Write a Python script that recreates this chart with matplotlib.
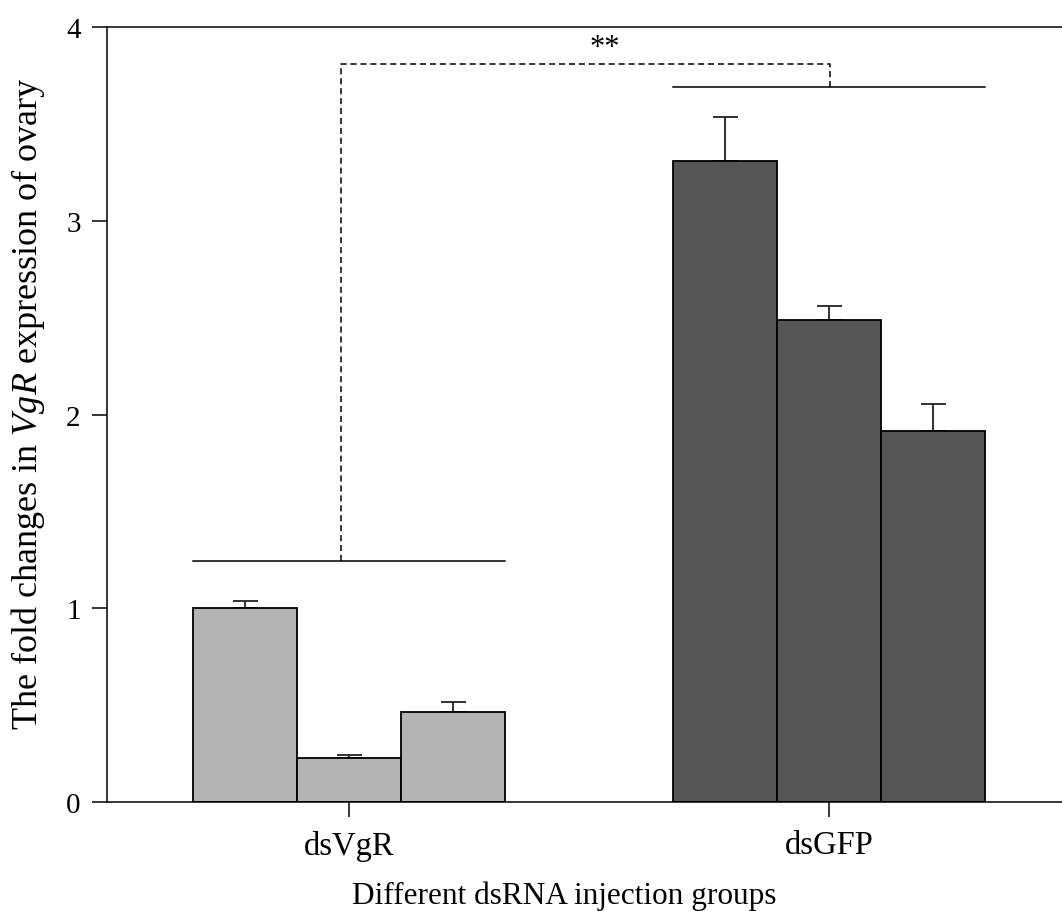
import numpy as np
import matplotlib
matplotlib.use("Agg")
import matplotlib.pyplot as plt

plt.rcParams['font.family'] = ['Liberation Serif', 'DejaVu Serif']
plt.rcParams['mathtext.fontset'] = 'custom'
plt.rcParams['mathtext.it'] = 'Liberation Serif:italic'
plt.rcParams['mathtext.rm'] = 'Liberation Serif'

groups = ["dsVgR", "dsGFP"]
dsvgr_vals = [1.00, 0.227, 0.464]
dsvgr_err = [0.04, 0.016, 0.052]
dsgfp_vals = [3.308, 2.488, 1.915]
dsgfp_err = [0.227, 0.072, 0.139]
yticks = [0, 1, 2, 3, 4]

w = 0.2167
offsets = np.array([-1, 0, 1]) * w
centers = np.array([1, 2])

fig = plt.figure(figsize=(10.62, 9.12), dpi=100)
ax = fig.add_axes([107 / 1062, 1 - 803 / 912, (1062 - 107) / 1062, (803 - 28) / 912])

for c, vals, errs, col in [(centers[0], dsvgr_vals, dsvgr_err, '#b4b4b4'),
                           (centers[1], dsgfp_vals, dsgfp_err, '#555555')]:
    ax.bar(c + offsets, vals, width=w, color=col, edgecolor='black', linewidth=1.3, zorder=2)
    ax.errorbar(c + offsets, vals, yerr=[np.zeros(3), errs], fmt='none', ecolor='#222222',
                elinewidth=1.3, capsize=9, capthick=1.3, zorder=1)

# significance bracket
lw = 1.1
ax.plot([centers[0] - 1.5 * w, centers[0] + 1.5 * w], [1.244, 1.244], color='black', lw=lw)
ax.plot([centers[1] - 1.5 * w, centers[1] + 1.5 * w], [3.69, 3.69], color='black', lw=lw)
xl, xr = centers[0] - 0.0167, centers[1] + 0.002
ax.plot([xl, xl, xr, xr], [1.244, 3.81, 3.81, 3.69], color='black', lw=lw, ls=(0, (4, 2.5)))
ax.text(1.533, 3.82, '**', ha='center', va='bottom', fontsize=22)

ax.set_xlim(0.496, 2.485)
ax.set_ylim(0, 4)
ax.set_yticks(yticks)
ax.set_xticks(centers)
ax.set_xticklabels(groups)
ax.spines['right'].set_visible(False)
for s in ['left', 'bottom', 'top']:
    ax.spines[s].set_linewidth(1.1)
ax.tick_params(direction='out', length=11, width=1.1)
ax.tick_params(axis='y', pad=8, labelsize=21)
ax.tick_params(axis='x', pad=9, labelsize=23.5)
ax.set_xlabel('Different dsRNA injection groups', fontsize=22.5)
ax.set_ylabel('The fold changes in $VgR$ expression of ovary', fontsize=26)
ax.xaxis.set_label_coords(0.479, -0.101)
ax.yaxis.set_label_coords(-0.063, 0.516)

fig.savefig('out.png', dpi=100)
